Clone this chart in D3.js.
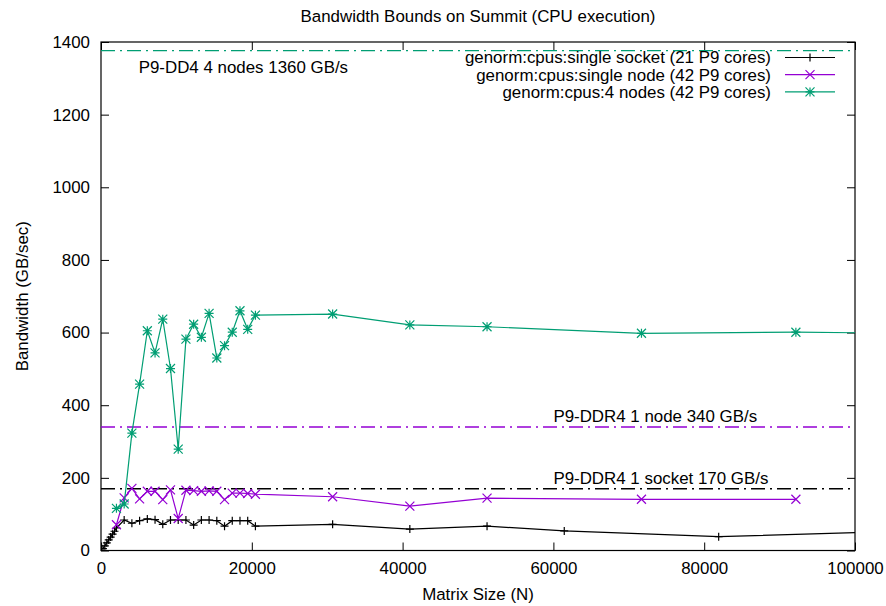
<!DOCTYPE html>
<html>
<head>
<meta charset="utf-8">
<script src="https://cdn.jsdelivr.net/npm/d3@7"></script>
<style>
  body { margin: 0; background: #fff; }
  text { font-family: "Liberation Sans", Arial, sans-serif; font-size: 16.9px; fill: #000; }
</style>
</head>
<body>
<svg width="886" height="606"></svg>
<script>
// data
var socketN = [256, 512, 768, 1024, 1280, 1536, 1792, 2048, 3072, 4096, 5120, 6144, 7168, 8192, 9216, 10240,
    11264, 12288, 13312, 14336, 15360, 16384, 17408, 18432, 19456, 20480, 30720, 40960, 51200, 61440, 81920, 102400]
var socketBw = [5, 13, 21, 29, 37, 45, 53, 62, 84, 75, 82, 87, 85, 72, 84, 84,
    84, 70, 84, 84, 82, 67, 82, 82, 82, 67, 72, 59, 67, 54, 38, 51]

var nodeN = [2048, 3072, 4096, 5120, 6144, 7168, 8192, 9216, 10240, 11264, 12288, 13312, 14336, 15360,
    16384, 17408, 18432, 19456, 20480, 30720, 40960, 51200, 71680, 92160]
var nodeBw = [71, 145, 171, 142, 163, 163, 140, 167, 88, 166, 165, 163, 164, 163,
    140, 158, 158, 157, 155, 148, 122, 144, 141, 141]

var nodes4N = [2048, 3072, 4096, 5120, 6144, 7168, 8192, 9216, 10240, 11264, 12288, 13312, 14336, 15360,
    16384, 17408, 18432, 19456, 20480, 30720, 40960, 51200, 71680, 92160, 102400]
var nodes4Bw = [116, 128, 323, 458, 605, 544, 637, 501, 279, 582, 623, 587, 653, 530,
    564, 601, 660, 609, 648, 651, 621, 616, 598, 601, 599]

var seriesNames = ['genorm:cpus:single socket (21 P9 cores)', 'genorm:cpus:single node (42 P9 cores)', 'genorm:cpus:4 nodes (42 P9 cores)']
var seriesColors = ['#000000', '#9400d3', '#009e73']

// peak bandwidth lines
var peakValues = [1376, 340, 170]
var peakLabels = ['P9-DD4 4 nodes 1360 GB/s', 'P9-DDR4 1 node 340 GB/s', 'P9-DDR4 1 socket 170 GB/s']
var peakLabelX = [5000, 60000, 60000]
var peakLabelY = [1330, 370, 200]
var peakColors = ['#009e73', '#9400d3', '#000000']

var xTicks = [0, 20000, 40000, 60000, 80000, 100000]
var yTicks = [0, 200, 400, 600, 800, 1000, 1200, 1400]

var svg = d3.select('svg')
var pL = 101, pR = 855, pT = 42, pB = 550.5

var x = d3.scaleLinear().domain([0, 100000]).range([pL, pR])
var y = d3.scaleLinear().domain([0, 1400]).range([pB, pT])

svg.append('clipPath').attr('id', 'plot')
    .append('rect').attr('x', pL).attr('y', pT).attr('width', pR - pL).attr('height', pB - pT)

// ticks on all four sides, pointing inward
svg.append('g').attr('transform', 'translate(0,' + pB + ')')
    .call(d3.axisBottom(x).tickValues(xTicks).tickSizeInner(-8).tickSizeOuter(0).tickPadding(12).tickFormat(d3.format('d')))
svg.append('g').attr('transform', 'translate(0,' + pT + ')')
    .call(d3.axisTop(x).tickValues(xTicks).tickSizeInner(-8).tickSizeOuter(0).tickFormat(''))
svg.append('g').attr('transform', 'translate(' + pL + ',0)')
    .call(d3.axisLeft(y).tickValues(yTicks).tickSizeInner(-8).tickSizeOuter(0).tickPadding(11).tickFormat(d3.format('d')))
svg.append('g').attr('transform', 'translate(' + pR + ',0)')
    .call(d3.axisRight(y).tickValues(yTicks).tickSizeInner(-8).tickSizeOuter(0).tickFormat(''))
svg.selectAll('.domain').remove()
svg.selectAll('.tick line').attr('stroke', '#000')
svg.selectAll('.tick text').attr('font-size', '16.9px').attr('font-family', '"Liberation Sans", Arial, sans-serif').attr('fill', '#000')

svg.append('rect')
    .attr('x', pL).attr('y', pT).attr('width', pR - pL).attr('height', pB - pT)
    .attr('fill', 'none').attr('stroke', '#000').attr('stroke-width', 1.2)

// peak lines and their labels
var plot = svg.append('g').attr('clip-path', 'url(#plot)')
peakValues.forEach(function (v, i) {
    plot.append('line')
        .attr('x1', pL).attr('x2', pR)
        .attr('y1', y(v)).attr('y2', y(v))
        .attr('stroke', peakColors[i])
        .attr('stroke-width', 1.3)
        .attr('stroke-dasharray', '14,5,2,5')
    svg.append('text')
        .attr('x', x(peakLabelX[i]))
        .attr('y', y(peakLabelY[i]))
        .attr('dy', '0.35em')
        .text(peakLabels[i])
})

// point shapes: plus, cross, star
function marker(type, r) {
    var p = ''
    if (type != 1) p += 'M' + (-r) + ',0H' + r + 'M0,' + (-r) + 'V' + r
    if (type != 0) p += 'M' + (-r) + ',' + (-r) + 'L' + r + ',' + r + 'M' + (-r) + ',' + r + 'L' + r + ',' + (-r)
    return p
}
var markerSize = [4, 4.5, 4.5]

var series = [
    { n: socketN, bw: socketBw },
    { n: nodeN, bw: nodeBw },
    { n: nodes4N, bw: nodes4Bw }
]

var line = d3.line().x(d => x(d[0])).y(d => y(d[1]))

series.forEach(function (s, i) {
    var pts = s.n.map((n, j) => [n, s.bw[j]])
    plot.append('path')
        .attr('d', line(pts))
        .attr('fill', 'none')
        .attr('stroke', seriesColors[i])
        .attr('stroke-width', 1.2)
    plot.selectAll('path.m' + i).data(pts).enter().append('path')
        .attr('class', 'm' + i)
        .attr('d', marker(i, markerSize[i]))
        .attr('transform', d => 'translate(' + x(d[0]) + ',' + y(d[1]) + ')')
        .attr('stroke', seriesColors[i])
        .attr('stroke-width', 1.2)
})

// legend
var legend = svg.append('g')
seriesNames.forEach(function (name, i) {
    var ly = 57.5 + i * 17.2
    legend.append('text')
        .attr('x', 771).attr('y', ly).attr('dy', '0.35em')
        .attr('text-anchor', 'end')
        .text(name)
    legend.append('line')
        .attr('x1', 785).attr('x2', 835).attr('y1', ly).attr('y2', ly)
        .attr('stroke', seriesColors[i]).attr('stroke-width', 1.2)
    legend.append('path')
        .attr('d', marker(i, markerSize[i]))
        .attr('transform', 'translate(810,' + ly + ')')
        .attr('stroke', seriesColors[i]).attr('stroke-width', 1.2)
})

// titles
svg.append('text')
    .attr('x', (pL + pR) / 2).attr('y', 16).attr('dy', '0.35em')
    .attr('text-anchor', 'middle')
    .text('Bandwidth Bounds on Summit (CPU execution)')

svg.append('text')
    .attr('x', (pL + pR) / 2).attr('y', 594).attr('dy', '0.35em')
    .attr('text-anchor', 'middle')
    .text('Matrix Size (N)')

svg.append('text')
    .attr('transform', 'translate(22,' + ((pT + pB) / 2) + ') rotate(-90)')
    .attr('dy', '0.35em')
    .attr('text-anchor', 'middle')
    .text('Bandwidth (GB/sec)')
</script>
</body>
</html>
